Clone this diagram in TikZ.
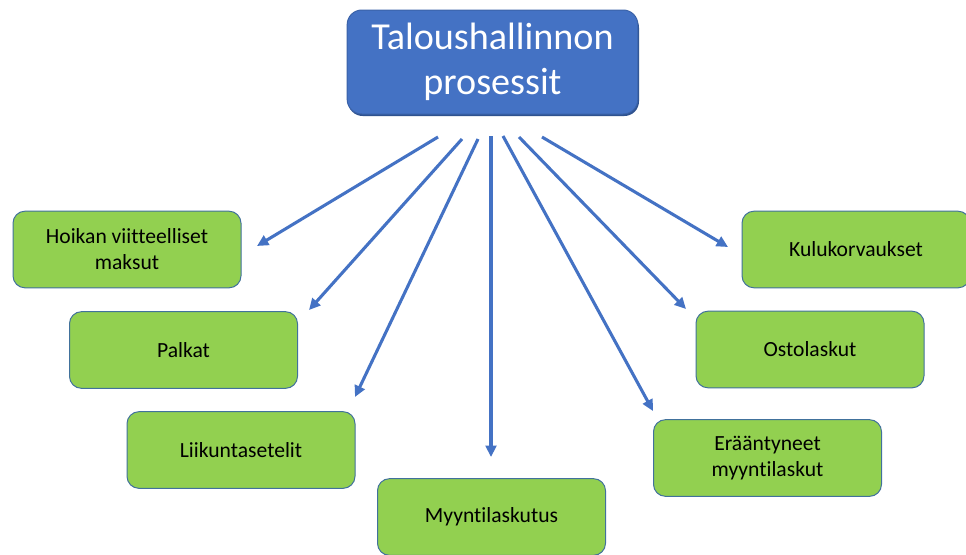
\documentclass[tikz,border=0pt]{standalone}
\usepackage{fontspec}
\setmainfont[Ligatures=NoCommon]{Carlito}
\usetikzlibrary{arrows.meta}
\definecolor{headblue}{HTML}{4472C4}
\definecolor{headedge}{HTML}{3A62A8}
\definecolor{headshade}{HTML}{2F528F}
\definecolor{leafgreen}{HTML}{92D050}
\definecolor{leafedge}{HTML}{41719C}
\definecolor{arrowblue}{HTML}{4472C4}
\tikzset{
  headbox/.style={draw=headedge, line width=0.75pt, fill=headblue, rounded corners=11pt,
    minimum width=218pt, minimum height=78pt, align=center, text=white,
    font=\fontsize{28.6}{34}\selectfont, inner sep=0pt},
  leafbox/.style={draw=leafedge, line width=0.75pt, fill=leafgreen, rounded corners=9pt,
    minimum width=171pt, minimum height=57.5pt, align=center, text=black,
    font=\fontsize{16.2}{19.5}\selectfont, inner sep=0pt},
  flow/.style={draw=arrowblue, line width=2.3pt,
    -{Triangle[length=8.5pt,width=8pt]}}
}
\begin{document}
\begin{tikzpicture}[x=0.75pt,y=-0.75pt]
  \useasboundingbox[fill=white] (0,0) rectangle (966,554);

  % heading box with a slight shadow under it
  \fill[headshade, rounded corners=11pt] (348,13) rectangle (639,116);
  \node[headbox] (head) at (492.5,62) {Taloushallinnon\\prosessit};

  % process boxes
  \node[leafbox] (hoikan) at (127,249.5) {Hoikan viitteelliset\\maksut};
  \node[leafbox] (palkat) at (183.5,350) {Palkat};
  \node[leafbox] (liikunta) at (241,450) {Liikuntasetelit};
  \node[leafbox] (myynti) at (491.5,517) {Myyntilaskutus};
  \node[leafbox] (eraant) at (767.5,458) {Erääntyneet\\myyntilaskut};
  \node[leafbox] (osto) at (810,349.5) {Ostolaskut};
  \node[leafbox] (kulu) at (856,249.5) {Kulukorvaukset};

  % arrow start points below the heading
  \coordinate (s1) at (438,137);
  \coordinate (s2) at (462,139);
  \coordinate (s3) at (478,139);
  \coordinate (s4) at (491,136);
  \coordinate (s5) at (503,136);
  \coordinate (s6) at (519,137);
  \coordinate (s7) at (542,137);

  % arrow end points, short of each box
  \coordinate (e1) at (257,246);
  \coordinate (e2) at (309,310);
  \coordinate (e3) at (355,397);
  \coordinate (e4) at (491,457);
  \coordinate (e5) at (653,411);
  \coordinate (e6) at (686,309);
  \coordinate (e7) at (728,247);

  \draw[flow] (s1) -- (e1);
  \draw[flow] (s2) -- (e2);
  \draw[flow] (s3) -- (e3);
  \draw[flow] (s4) -- (e4);
  \draw[flow] (s5) -- (e5);
  \draw[flow] (s6) -- (e6);
  \draw[flow] (s7) -- (e7);
\end{tikzpicture}
\end{document}
